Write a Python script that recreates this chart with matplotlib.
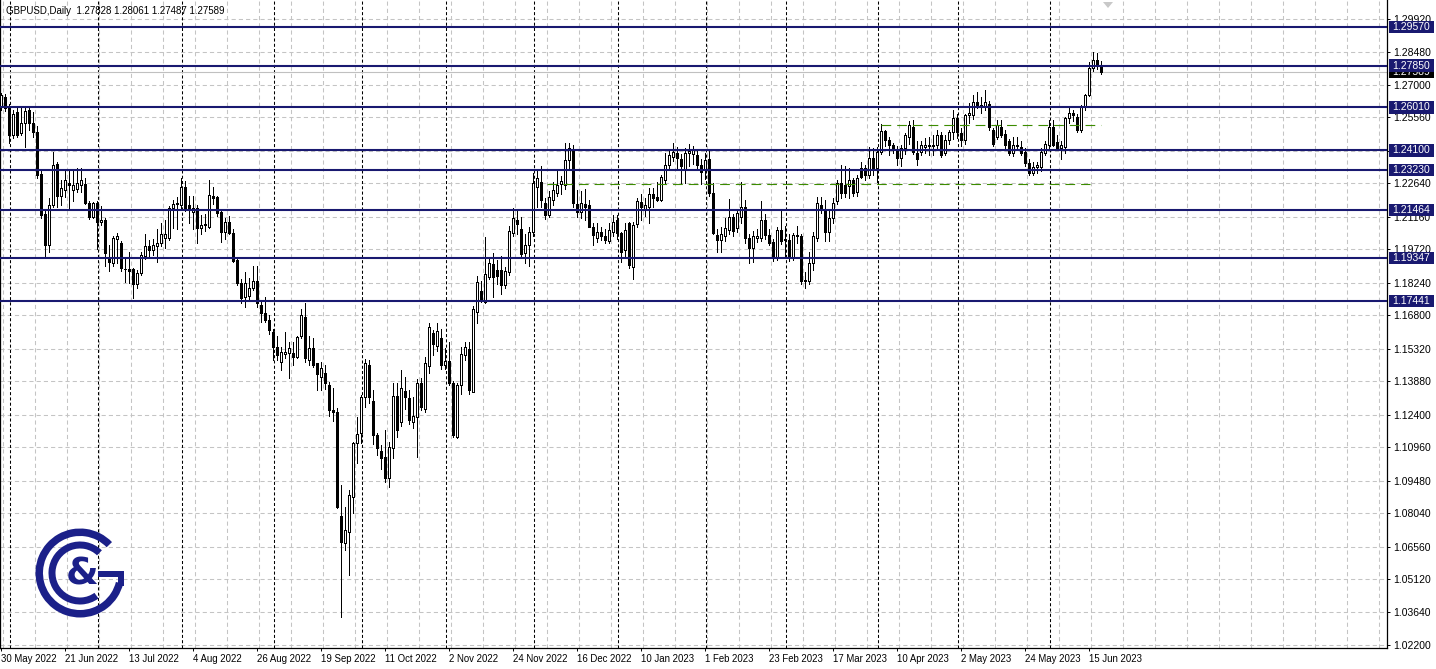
import matplotlib
matplotlib.use("Agg")
import matplotlib.pyplot as plt
from matplotlib.patches import Rectangle, Wedge, Polygon
import numpy as np

plt.rcParams['lines.scale_dashes'] = False
plt.rcParams['font.family'] = ['Liberation Sans', 'DejaVu Sans']

# ---------------- data ----------------
symbol_title = "GBPUSD,Daily  1.27828 1.28061 1.27487 1.27589"

opens = [
    1.2607, 1.2648, 1.2597, 1.2479, 1.2582, 1.2486, 1.2530, 1.2589, 1.2533, 1.2493,
    1.2306, 1.2129, 1.1992, 1.2169, 1.2350, 1.2209, 1.2235, 1.2268, 1.2235, 1.2241,
    1.2257, 1.2260, 1.2179, 1.2117, 1.2176, 1.2095, 1.2102, 1.1932, 1.1913, 1.2020,
    1.2002, 1.1886, 1.1884, 1.1884, 1.1819, 1.1866, 1.1944, 1.1988, 1.1970, 1.1985,
    1.1999, 1.2022, 1.2022, 1.2154, 1.2175, 1.2170, 1.2247, 1.2168, 1.2139, 1.2154,
    1.2065, 1.2078, 1.2073, 1.2209, 1.2205, 1.2139, 1.2050, 1.2095, 1.2046, 1.1925,
    1.1825, 1.1760, 1.1765, 1.1800, 1.1830, 1.1725, 1.1690, 1.1660, 1.1608, 1.1541,
    1.1475, 1.1507, 1.1512, 1.1515, 1.1494, 1.1590, 1.1674, 1.1482, 1.1534, 1.1467,
    1.1408, 1.1423, 1.1371, 1.1260, 1.1253, 1.0791, 1.0670, 1.0722, 1.0877, 1.1113,
    1.1157, 1.1320, 1.1460, 1.1302, 1.1150, 1.1081, 1.1051, 1.0958, 1.1091, 1.1323,
    1.1209, 1.1346, 1.1312, 1.1209, 1.1231, 1.1379, 1.1264, 1.1456, 1.1603, 1.1545,
    1.1578, 1.1460, 1.1479, 1.1382, 1.1143, 1.1371, 1.1504, 1.1531, 1.1342, 1.1696,
    1.1789, 1.1740, 1.1851, 1.1907, 1.1880, 1.1880, 1.1814, 1.1873, 1.2043, 1.2102,
    1.2062, 1.1955, 1.1990, 1.2050, 1.2250, 1.2272, 1.2176, 1.2124, 1.2191, 1.2220,
    1.2262, 1.2257, 1.2368, 1.2415, 1.2173, 1.2139, 1.2172, 1.2168, 1.2073, 1.2021,
    1.2050, 1.2030, 1.2010, 1.2051, 1.2102, 1.2044, 1.1970, 1.2088, 1.1896, 1.2085,
    1.2180, 1.2150, 1.2160, 1.2215, 1.2205, 1.2191, 1.2280, 1.2346, 1.2383, 1.2398,
    1.2371, 1.2324, 1.2398, 1.2395, 1.2390, 1.2346, 1.2324, 1.2373, 1.2221, 1.2036,
    1.2014, 1.2030, 1.2058, 1.2117, 1.2065, 1.2117, 1.2161, 1.2021, 1.1977, 1.2021,
    1.2021, 1.2103, 1.2036, 1.2006, 1.1933, 1.2058, 1.2020, 1.2014, 1.1933, 1.2036,
    1.2030, 1.1830, 1.1830, 1.1911, 1.2021, 1.2170, 1.2147, 1.2051, 1.2110, 1.2185,
    1.2264, 1.2255, 1.2254, 1.2279, 1.2226, 1.2331, 1.2331, 1.2301, 1.2375, 1.2330,
    1.2405, 1.2496, 1.2456, 1.2435, 1.2412, 1.2375, 1.2420, 1.2471, 1.2515, 1.2400,
    1.2405, 1.2427, 1.2435, 1.2430, 1.2435, 1.2478, 1.2397, 1.2456, 1.2490, 1.2555,
    1.2486, 1.2456, 1.2567, 1.2567, 1.2623, 1.2612, 1.2608, 1.2614, 1.2501, 1.2471,
    1.2515, 1.2481, 1.2450, 1.2397, 1.2434, 1.2427, 1.2405, 1.2353, 1.2309, 1.2338,
    1.2338, 1.2397, 1.2434, 1.2515, 1.2446, 1.2422, 1.2427, 1.2552, 1.2575, 1.2560,
    1.2501, 1.2604, 1.2656, 1.2774, 1.2810, 1.27828,
]

highs = [
    1.2666, 1.2660, 1.2615, 1.2590, 1.2600, 1.2599, 1.2600, 1.2598, 1.2580, 1.2516,
    1.2320, 1.2150, 1.2200, 1.2404, 1.2360, 1.2280, 1.2324, 1.2320, 1.2324, 1.2330,
    1.2331, 1.2290, 1.2185, 1.2183, 1.2185, 1.2165, 1.2110, 1.1990, 1.2030, 1.2043,
    1.2010, 1.1932, 1.1962, 1.1890, 1.1880, 1.1960, 1.2040, 1.2015, 1.2020, 1.2064,
    1.2087, 1.2100, 1.2162, 1.2190, 1.2205, 1.2287, 1.2273, 1.2209, 1.2210, 1.2170,
    1.2125, 1.2130, 1.2277, 1.2247, 1.2210, 1.2140, 1.2110, 1.2120, 1.2060, 1.1930,
    1.1840, 1.1873, 1.1845, 1.1900, 1.1900, 1.1740, 1.1760, 1.1680, 1.1620, 1.1590,
    1.1540, 1.1605, 1.1560, 1.1560, 1.1590, 1.1710, 1.1733, 1.1590, 1.1580, 1.1470,
    1.1475, 1.1460, 1.1385, 1.1356, 1.1268, 1.0929, 1.0833, 1.0906, 1.1120, 1.1231,
    1.1327, 1.1485, 1.1482, 1.1350, 1.1160, 1.1106, 1.1172, 1.1120, 1.1379, 1.1379,
    1.1438, 1.1408, 1.1349, 1.1320, 1.1400, 1.1401, 1.1497, 1.1645, 1.1615, 1.1645,
    1.1620, 1.1535, 1.1563, 1.1390, 1.1380, 1.1541, 1.1563, 1.1560, 1.1720, 1.1854,
    1.1830, 1.2025, 1.1932, 1.1954, 1.1925, 1.1943, 1.1895, 1.2075, 1.2154, 1.2150,
    1.2114, 1.2040, 1.2070, 1.2310, 1.2323, 1.2341, 1.2200, 1.2230, 1.2270, 1.2323,
    1.2295, 1.2442, 1.2445, 1.2435, 1.2235, 1.2230, 1.2240, 1.2190, 1.2090, 1.2088,
    1.2070, 1.2060, 1.2088, 1.2125, 1.2125, 1.2050, 1.2088, 1.2095, 1.2095, 1.2200,
    1.2215, 1.2200, 1.2245, 1.2245, 1.2270, 1.2300, 1.2400, 1.2410, 1.2445, 1.2425,
    1.2395, 1.2420, 1.2440, 1.2430, 1.2410, 1.2370, 1.2400, 1.2410, 1.2265, 1.2060,
    1.2070, 1.2110, 1.2195, 1.2130, 1.2150, 1.2270, 1.2190, 1.2040, 1.2055, 1.2060,
    1.2184, 1.2130, 1.2060, 1.2020, 1.2070, 1.2140, 1.2075, 1.2040, 1.2045, 1.2075,
    1.2040, 1.1870, 1.1960, 1.2050, 1.2205, 1.2203, 1.2190, 1.2140, 1.2200, 1.2280,
    1.2345, 1.2340, 1.2334, 1.2290, 1.2300, 1.2360, 1.2345, 1.2427, 1.2420, 1.2425,
    1.2525, 1.2500, 1.2470, 1.2445, 1.2430, 1.2435, 1.2485, 1.2540, 1.2545, 1.2450,
    1.2450, 1.2465, 1.2470, 1.2480, 1.2500, 1.2490, 1.2480, 1.2500, 1.2590, 1.2570,
    1.2510, 1.2570, 1.2620, 1.2656, 1.2670, 1.2645, 1.2678, 1.2630, 1.2510, 1.2545,
    1.2545, 1.2500, 1.2460, 1.2470, 1.2470, 1.2450, 1.2420, 1.2370, 1.2360, 1.2360,
    1.2420, 1.2450, 1.2545, 1.2545, 1.2480, 1.2450, 1.2560, 1.2600, 1.2590, 1.2570,
    1.2610, 1.2660, 1.2800, 1.2847, 1.2840, 1.28061,
]

lows = [
    1.2590, 1.2585, 1.2442, 1.2465, 1.2470, 1.2480, 1.2427, 1.2500, 1.2470, 1.2290,
    1.2110, 1.1934, 1.1960, 1.2160, 1.2161, 1.2169, 1.2206, 1.2155, 1.2184, 1.2228,
    1.2228, 1.2172, 1.2105, 1.2110, 1.1975, 1.2080, 1.1900, 1.1875, 1.1900, 1.1910,
    1.1874, 1.1829, 1.1822, 1.1756, 1.1800, 1.1860, 1.1930, 1.1935, 1.1945, 1.1914,
    1.1985, 1.1980, 1.2012, 1.2065, 1.2062, 1.2150, 1.2140, 1.2090, 1.2060, 1.1998,
    1.2040, 1.2055, 1.2065, 1.2175, 1.2120, 1.2005, 1.2020, 1.2040, 1.1918, 1.1815,
    1.1735, 1.1717, 1.1750, 1.1790, 1.1715, 1.1650, 1.1650, 1.1595, 1.1482, 1.1480,
    1.1438, 1.1490, 1.1401, 1.1460, 1.1490, 1.1580, 1.1475, 1.1460, 1.1450, 1.1350,
    1.1350, 1.1355, 1.1235, 1.1210, 1.0825, 1.0346, 1.0641, 1.0530, 1.0805, 1.1025,
    1.1113, 1.1275, 1.1290, 1.1110, 1.1062, 1.1000, 1.0940, 1.0918, 1.1050, 1.1140,
    1.1190, 1.1265, 1.1200, 1.1180, 1.1054, 1.1260, 1.1250, 1.1426, 1.1505, 1.1520,
    1.1440, 1.1440, 1.1370, 1.1143, 1.1135, 1.1330, 1.1480, 1.1330, 1.1340, 1.1645,
    1.1740, 1.1736, 1.1840, 1.1760, 1.1820, 1.1774, 1.1800, 1.1860, 1.2030, 1.2040,
    1.1943, 1.1910, 1.1900, 1.2030, 1.2160, 1.2160, 1.2105, 1.2115, 1.2170, 1.2210,
    1.2215, 1.2240, 1.2325, 1.2160, 1.2117, 1.2110, 1.2100, 1.2070, 1.1992, 1.2005,
    1.2015, 1.2000, 1.1998, 1.2030, 1.2020, 1.1918, 1.1940, 1.1890, 1.1841, 1.2070,
    1.2100, 1.2120, 1.2090, 1.2160, 1.2185, 1.2185, 1.2260, 1.2330, 1.2365, 1.2330,
    1.2265, 1.2265, 1.2340, 1.2350, 1.2330, 1.2260, 1.2285, 1.2210, 1.2040, 1.1960,
    1.1962, 1.2010, 1.2040, 1.2030, 1.2050, 1.2090, 1.2000, 1.1911, 1.1915, 1.2005,
    1.2010, 1.2020, 1.1990, 1.1922, 1.1925, 1.1995, 1.1940, 1.1920, 1.1925, 1.2000,
    1.1820, 1.1802, 1.1820, 1.1880, 1.2010, 1.2135, 1.2010, 1.2010, 1.2090, 1.2175,
    1.2200, 1.2205, 1.2200, 1.2210, 1.2210, 1.2290, 1.2280, 1.2290, 1.2300, 1.2272,
    1.2395, 1.2430, 1.2390, 1.2400, 1.2345, 1.2340, 1.2395, 1.2440, 1.2395, 1.2345,
    1.2390, 1.2400, 1.2390, 1.2390, 1.2410, 1.2380, 1.2390, 1.2440, 1.2460, 1.2465,
    1.2430, 1.2440, 1.2530, 1.2550, 1.2600, 1.2575, 1.2590, 1.2500, 1.2430, 1.2460,
    1.2470, 1.2420, 1.2390, 1.2385, 1.2410, 1.2390, 1.2340, 1.2300, 1.2300, 1.2310,
    1.2320, 1.2390, 1.2420, 1.2430, 1.2410, 1.2370, 1.2400, 1.2530, 1.2540, 1.2490,
    1.2490, 1.2590, 1.2650, 1.2760, 1.2770, 1.27487,
]

closes = [
    1.2656, 1.2597, 1.2479, 1.2572, 1.2479, 1.2530, 1.2586, 1.2533, 1.2493, 1.2301,
    1.2124, 1.1992, 1.2169, 1.2346, 1.2209, 1.2243, 1.2280, 1.2259, 1.2258, 1.2268,
    1.2279, 1.2179, 1.2117, 1.2176, 1.2095, 1.2102, 1.1955, 1.1918, 1.2021, 1.2030,
    1.1888, 1.1885, 1.1875, 1.1819, 1.1869, 1.1947, 1.1989, 1.1970, 1.1993, 1.2000,
    1.2040, 1.2040, 1.2154, 1.2172, 1.2178, 1.2247, 1.2146, 1.2146, 1.2154, 1.2065,
    1.2080, 1.2085, 1.2212, 1.2198, 1.2132, 1.2051, 1.2095, 1.2046, 1.1922, 1.1825,
    1.1755, 1.1825, 1.1800, 1.1830, 1.1733, 1.1690, 1.1660, 1.1615, 1.1541, 1.1504,
    1.1519, 1.1519, 1.1534, 1.1497, 1.1583, 1.1681, 1.1490, 1.1534, 1.1460, 1.1420,
    1.1445, 1.1379, 1.1260, 1.1250, 1.0833, 1.0678, 1.0729, 1.0884, 1.1113, 1.1153,
    1.1320, 1.1470, 1.1320, 1.1150, 1.1091, 1.1047, 1.0958, 1.1098, 1.1323, 1.1172,
    1.1357, 1.1317, 1.1216, 1.1234, 1.1379, 1.1276, 1.1467, 1.1627, 1.1553, 1.1612,
    1.1460, 1.1479, 1.1382, 1.1150, 1.1371, 1.1509, 1.1538, 1.1349, 1.1706, 1.1829,
    1.1751, 1.1863, 1.1910, 1.1851, 1.1854, 1.1814, 1.1878, 1.2053, 1.2109, 1.2084,
    1.1952, 1.1990, 1.2050, 1.2265, 1.2287, 1.2191, 1.2124, 1.2205, 1.2235, 1.2257,
    1.2275, 1.2368, 1.2420, 1.2176, 1.2139, 1.2176, 1.2160, 1.2073, 1.2036, 1.2051,
    1.2029, 1.2014, 1.2058, 1.2095, 1.2044, 1.1962, 1.2058, 1.1903, 1.2080, 1.2184,
    1.2160, 1.2170, 1.2215, 1.2200, 1.2190, 1.2294, 1.2346, 1.2390, 1.2401, 1.2376,
    1.2339, 1.2398, 1.2409, 1.2410, 1.2346, 1.2316, 1.2368, 1.2221, 1.2043, 1.2014,
    1.2040, 1.2065, 1.2117, 1.2055, 1.2132, 1.2161, 1.2021, 1.1977, 1.2030, 1.2033,
    1.2103, 1.2036, 1.1999, 1.1933, 1.2058, 1.2007, 1.2015, 1.1933, 1.2036, 1.2030,
    1.1830, 1.1838, 1.1911, 1.2029, 1.2176, 1.2150, 1.2051, 1.2110, 1.2176, 1.2264,
    1.2220, 1.2222, 1.2279, 1.2220, 1.2287, 1.2294, 1.2301, 1.2375, 1.2330, 1.2405,
    1.2496, 1.2456, 1.2435, 1.2415, 1.2375, 1.2420, 1.2478, 1.2523, 1.2405, 1.2370,
    1.2435, 1.2435, 1.2430, 1.2435, 1.2478, 1.2390, 1.2456, 1.2490, 1.2555, 1.2490,
    1.2456, 1.2567, 1.2575, 1.2623, 1.2608, 1.2610, 1.2623, 1.2515, 1.2437, 1.2523,
    1.2478, 1.2434, 1.2397, 1.2434, 1.2430, 1.2400, 1.2353, 1.2309, 1.2338, 1.2346,
    1.2405, 1.2437, 1.2515, 1.2434, 1.2422, 1.2434, 1.2552, 1.2575, 1.2566, 1.2501,
    1.2604, 1.2656, 1.2777, 1.2810, 1.2785, 1.27589,
]

date_labels = ["30 May 2022", "21 Jun 2022", "13 Jul 2022", "4 Aug 2022", "26 Aug 2022",
               "19 Sep 2022", "11 Oct 2022", "2 Nov 2022", "24 Nov 2022", "16 Dec 2022",
               "10 Jan 2023", "1 Feb 2023", "23 Feb 2023", "17 Mar 2023", "10 Apr 2023",
               "2 May 2023", "24 May 2023", "15 Jun 2023"]
date_label_bars = [0, 16, 32, 48, 64, 80, 96, 112, 128, 144, 160, 176, 192, 208, 224, 240, 256, 272]
month_start_bars = [2, 24, 45, 68, 90, 111, 133, 154, 176, 196, 219, 239, 262]

price_ticks = [1.29920, 1.28480, 1.27000, 1.25560, 1.24080, 1.22640, 1.21160, 1.19720,
               1.18240, 1.16800, 1.15320, 1.13880, 1.12400, 1.10960, 1.09480, 1.08040,
               1.06560, 1.05120, 1.03640, 1.02200]
level_prices = [1.29570, 1.27850, 1.26010, 1.24100, 1.23230, 1.21464, 1.19347, 1.17441]
bid_price = 1.27589
green_levels = [1.2262, 1.2521]
green_starts = [136.5, 220.0]
green_ends = [272.3, 275.0]

# ---------------- layout ----------------
W, H = 1436, 669
fig = plt.figure(figsize=(W / 100, H / 100), dpi=100)
fig.patch.set_facecolor('white')

AX_L, AX_R, AX_T, AX_B = 0, 1387, 0, 648
ax = fig.add_axes([AX_L / W, (H - AX_B) / H, (AX_R - AX_L) / W, (AX_B - AX_T) / H])

PX_PER_PRICE = 2258.3
Y0_PIX, Y0_PRICE = 645.0, 1.02200
ylo = Y0_PRICE - (AX_B - Y0_PIX) / PX_PER_PRICE
yhi = Y0_PRICE + (Y0_PIX - AX_T) / PX_PER_PRICE
ax.set_ylim(ylo, yhi)
# bar i at pixel 1 + 4 i
ax.set_xlim((AX_L - 1) / 4.0, (AX_R - 1) / 4.0)


def price_to_pix(p):
    return Y0_PIX - (p - Y0_PRICE) * PX_PER_PRICE


NAVY = '#191970'
GRID = '#c4c4c4'

# grid
for p in price_ticks:
    ax.axhline(p, color=GRID, lw=0.75, linestyle=(0, (3.0, 2.2)), zorder=1)
for k in range(0, 44):
    ax.axvline(0.375 + 8 * k, color=GRID, lw=0.75, linestyle=(0, (3.0, 2.2)), zorder=1)
for b in month_start_bars:
    ax.axvline(b + 0.15, color='black', lw=0.75, linestyle=(0, (2.2, 1.6)), zorder=1.5)

# bid line
ax.axhline(bid_price, color='#c0c0c0', lw=0.8, zorder=2)

# candles
o = np.array(opens); h = np.array(highs); l = np.array(lows); c = np.array(closes)
x = np.arange(len(o))
up = c >= o
ax.vlines(x, l, h, color='black', lw=0.5, zorder=3, antialiased=False)
ax.bar(x[up], c[up] - o[up], bottom=o[up], width=0.5, facecolor='white',
       edgecolor='black', lw=0.5, zorder=4, antialiased=False)
ax.bar(x[~up], o[~up] - c[~up], bottom=c[~up], width=0.5, facecolor='black',
       edgecolor='black', lw=0.5, zorder=4, antialiased=False)

# level lines
for p in level_prices:
    ax.axhline(p, color=NAVY, lw=1.5, zorder=5)
for p, s, e in zip(green_levels, green_starts, green_ends):
    ax.hlines(p, s, e, colors='#3c8c00', lw=0.8, linestyles=[(0, (7.0, 4.3))], zorder=5)

# axes styling
ax.spines['top'].set_visible(False)
for side in ['left', 'right', 'bottom']:
    ax.spines[side].set_color('black')
    ax.spines[side].set_linewidth(0.9)

ax.yaxis.tick_right()
ax.set_yticks(price_ticks)
ax.set_yticklabels([f"{v:.5f}" for v in price_ticks])
ax.tick_params(axis='y', direction='out', length=2.5, width=0.7, pad=2.0,
               labelsize=7.5, colors='black')
ax.set_xticks(date_label_bars)
ax.set_xticklabels(date_labels, ha='left')
ax.tick_params(axis='x', direction='out', length=2.5, width=0.7, pad=1.5,
               labelsize=6.9, colors='black')
for t in ax.get_xticklabels():
    t.set_horizontalalignment('left')


# ---------------- right-side price boxes ----------------
def fig_box(ypix, text, face, z):
    bh = 12.5
    fig.patches.append(Rectangle((1389 / W, (H - ypix - bh / 2) / H), 45 / W, bh / H,
                                 transform=fig.transFigure, facecolor=face,
                                 edgecolor='none', zorder=z))
    fig.text(1392 / W, (H - ypix) / H, text, color='white', fontsize=7.5,
             va='center', ha='left', zorder=z + 0.5)


fig_box(price_to_pix(bid_price), f"{bid_price:.5f}", 'black', 4)
for p in level_prices:
    fig_box(price_to_pix(p), f"{p:.5f}", NAVY, 5)

# header
fig.text(6 / W, (H - 11) / H, symbol_title, fontsize=7.0, va='center', ha='left', color='black')

# shift marker triangle
fig.patches.append(Polygon([(1103 / W, (H - 2) / H), (1113 / W, (H - 2) / H), (1108 / W, (H - 8) / H)],
                           closed=True, transform=fig.transFigure, facecolor='#c8c8c8',
                           edgecolor='none', zorder=2))

# ---------------- logo ----------------
LOGO = '#1b2089'
lax = fig.add_axes([30 / W, 46 / H, 100 / W, 100 / H])
lax.set_xlim(0, 100)
lax.set_ylim(0, 100)
lax.set_aspect('equal')
lax.axis('off')
lax.patch.set_alpha(0)
cx, cy = 50, 50
lax.add_patch(Wedge((cx, cy), 44.5, 44, 346, width=7.5, facecolor=LOGO, edgecolor='none'))
lax.add_patch(Wedge((cx, cy), 31.5, 46, 306, width=7.0, facecolor=LOGO, edgecolor='none'))
lax.add_patch(Rectangle((68, 46.5), 26, 6.0, facecolor=LOGO, edgecolor='none'))
lax.add_patch(Rectangle((88, 37), 6, 15.5, facecolor=LOGO, edgecolor='none'))
lax.text(52, 48.5, '&', fontsize=27, fontweight='bold', color=LOGO, ha='center', va='center',
         family='DejaVu Sans')

fig.savefig('out.png', dpi=100)
